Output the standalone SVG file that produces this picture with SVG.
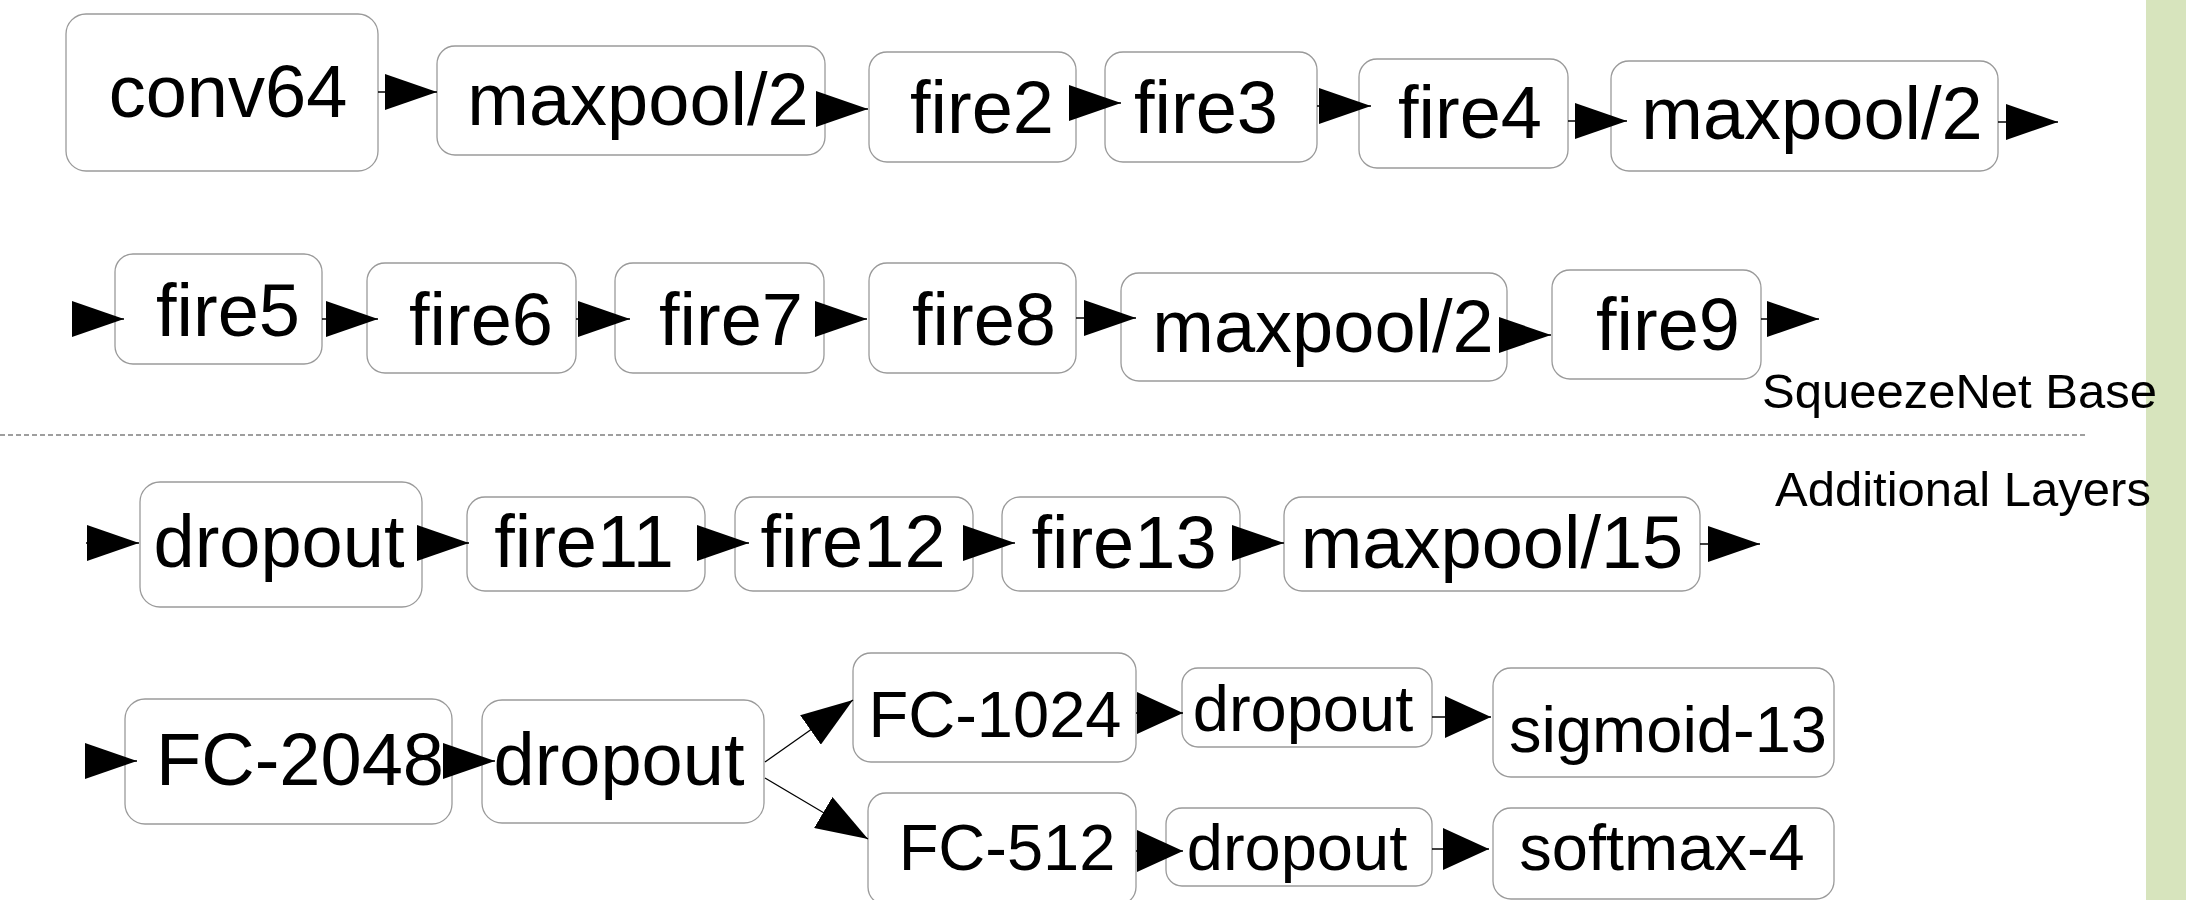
<svg xmlns="http://www.w3.org/2000/svg" width="2186" height="900" viewBox="0 0 2186 900">
  <style>
    .box { fill: #ffffff; stroke: #9a9a9a; stroke-width: 1.3; }
    .lbl { font-family: "Liberation Sans", Arial, sans-serif; font-size: 74px; fill: #000000; text-anchor: middle; }
    .sm { font-size: 65px; }
    .note { font-family: "Liberation Sans", Arial, sans-serif; font-size: 49px; fill: #000000; }
    .wire { fill: none; stroke: #000000; stroke-width: 1.3; marker-end: url(#arrow); }
    .wire.s { marker-end: url(#arrowS); }
  </style>
  <defs>
    <marker id="arrow" markerUnits="userSpaceOnUse" markerWidth="52" markerHeight="36" viewBox="0 0 52 36" refX="52" refY="18" orient="auto">
      <path d="M0,0 L52,18 L0,36 Z" fill="#000000"/>
    </marker>
    <marker id="arrowS" markerUnits="userSpaceOnUse" markerWidth="46" markerHeight="42" viewBox="0 0 46 42" refX="46" refY="21" orient="auto">
      <path d="M0,0 L46,21 L0,42 Z" fill="#000000"/>
    </marker>
  </defs>

  <rect width="2186" height="900" fill="#ffffff"/>
  <!-- side band -->
  <rect x="2146" y="0" width="40" height="900" fill="#d7e4bd"/>

  <!-- separator between base network and added layers -->
  <path d="M0,435 H2088" stroke="#7f7f7f" stroke-width="1.3" stroke-dasharray="5,3" fill="none"/>
  <text class="note" x="1762" y="408">SqueezeNet Base</text>
  <text class="note" x="1775" y="506">Additional Layers</text>

  <!-- row 1 -->
  <g id="conv64"><rect class="box" x="66" y="14" width="312" height="157" rx="20"/><text class="lbl" x="228" y="117">conv64</text></g>
  <g id="maxpool_a"><rect class="box" x="437" y="46" width="388" height="109" rx="18"/><text class="lbl" x="638" y="125">maxpool/2</text></g>
  <g id="fire2"><rect class="box" x="869" y="52" width="207" height="110" rx="18"/><text class="lbl" x="982" y="133">fire2</text></g>
  <g id="fire3"><rect class="box" x="1105" y="52" width="212" height="110" rx="18"/><text class="lbl" x="1206" y="133">fire3</text></g>
  <g id="fire4"><rect class="box" x="1359" y="59" width="209" height="109" rx="18"/><text class="lbl" x="1470" y="138">fire4</text></g>
  <g id="maxpool_b"><rect class="box" x="1611" y="61" width="387" height="110" rx="18"/><text class="lbl" x="1812" y="139">maxpool/2</text></g>

  <!-- row 2 -->
  <g id="fire5"><rect class="box" x="115" y="254" width="207" height="110" rx="18"/><text class="lbl" x="228" y="336">fire5</text></g>
  <g id="fire6"><rect class="box" x="367" y="263" width="209" height="110" rx="18"/><text class="lbl" x="481" y="345">fire6</text></g>
  <g id="fire7"><rect class="box" x="615" y="263" width="209" height="110" rx="18"/><text class="lbl" x="731" y="345">fire7</text></g>
  <g id="fire8"><rect class="box" x="869" y="263" width="207" height="110" rx="18"/><text class="lbl" x="984" y="345">fire8</text></g>
  <g id="maxpool_c"><rect class="box" x="1121" y="273" width="386" height="108" rx="18"/><text class="lbl" x="1323" y="352">maxpool/2</text></g>
  <g id="fire9"><rect class="box" x="1552" y="270" width="209" height="109" rx="18"/><text class="lbl" x="1668" y="350">fire9</text></g>

  <!-- row 3 -->
  <g id="dropout_a"><rect class="box" x="140" y="482" width="282" height="125" rx="20"/><text class="lbl" x="279" y="567">dropout</text></g>
  <g id="fire11"><rect class="box" x="467" y="497" width="238" height="94" rx="18"/><text class="lbl" x="584" y="567">fire11</text></g>
  <g id="fire12"><rect class="box" x="735" y="497" width="238" height="94" rx="18"/><text class="lbl" x="853" y="567">fire12</text></g>
  <g id="fire13"><rect class="box" x="1002" y="497" width="238" height="94" rx="18"/><text class="lbl" x="1124" y="568">fire13</text></g>
  <g id="maxpool_15"><rect class="box" x="1284" y="497" width="416" height="94" rx="18"/><text class="lbl" x="1492" y="568">maxpool/15</text></g>

  <!-- row 4 -->
  <g id="fc2048"><rect class="box" x="125" y="699" width="327" height="125" rx="20"/><text class="lbl" x="300" y="785">FC-2048</text></g>
  <g id="dropout_b"><rect class="box" x="482" y="700" width="282" height="123" rx="20"/><text class="lbl" x="619" y="785">dropout</text></g>
  <g id="fc1024"><rect class="box" x="853" y="653" width="283" height="109" rx="18"/><text class="lbl sm" x="995" y="737">FC-1024</text></g>
  <g id="fc512"><rect class="box" x="868" y="793" width="268" height="112" rx="18"/><text class="lbl sm" x="1007" y="870">FC-512</text></g>
  <g id="dropout_c"><rect class="box" x="1182" y="668" width="250" height="79" rx="16"/><text class="lbl sm" x="1303" y="731">dropout</text></g>
  <g id="sigmoid13"><rect class="box" x="1493" y="668" width="341" height="109" rx="18"/><text class="lbl sm" x="1668" y="752">sigmoid-13</text></g>
  <g id="dropout_d"><rect class="box" x="1166" y="808" width="266" height="78" rx="16"/><text class="lbl sm" x="1297" y="870">dropout</text></g>
  <g id="softmax4"><rect class="box" x="1493" y="808" width="341" height="91" rx="18"/><text class="lbl sm" x="1662" y="870">softmax-4</text></g>

  <!-- connectors -->
  <g id="connectors">
    <path class="wire" d="M378,92 H437"/>
    <path class="wire" d="M825,109 H868"/>
    <path class="wire" d="M1076,103 H1121"/>
    <path class="wire" d="M1317,106 H1371"/>
    <path class="wire" d="M1568,121 H1627"/>
    <path class="wire" d="M1998,122 H2058"/>

    <path class="wire" d="M72,319 H124"/>
    <path class="wire" d="M322,319 H378"/>
    <path class="wire" d="M576,319 H630"/>
    <path class="wire" d="M824,319 H867"/>
    <path class="wire" d="M1076,318 H1136"/>
    <path class="wire" d="M1507,335 H1551"/>
    <path class="wire" d="M1761,319 H1819"/>

    <path class="wire" d="M86,543 H139"/>
    <path class="wire" d="M422,543 H469"/>
    <path class="wire" d="M705,543 H749"/>
    <path class="wire" d="M973,543 H1015"/>
    <path class="wire" d="M1240,543 H1284"/>
    <path class="wire" d="M1700,544 H1760"/>

    <path class="wire" d="M88,761 H137"/>
    <path class="wire" d="M452,761 H495"/>
    <path class="wire" d="M765,762 L853,700"/>
    <path class="wire" d="M765,778 L868,839"/>
    <path class="wire s" d="M1136,713 H1183"/>
    <path class="wire s" d="M1432,717 H1491"/>
    <path class="wire s" d="M1136,851 H1183"/>
    <path class="wire s" d="M1432,849 H1489"/>
  </g>
</svg>
